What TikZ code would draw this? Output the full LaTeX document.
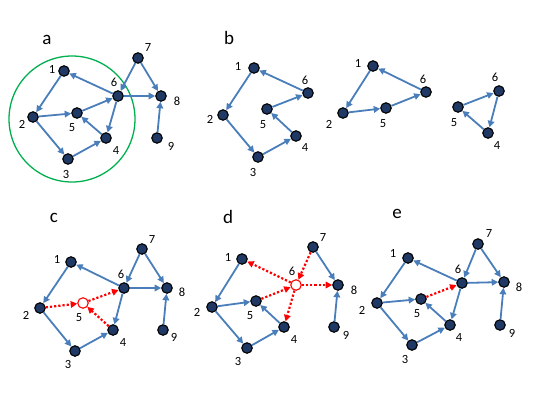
\documentclass[tikz,border=0pt]{standalone}
\usepackage{fontspec}
\setmainfont{Carlito}
\usetikzlibrary{arrows.meta}
\definecolor{edgeblue}{HTML}{4A7EBB}
\definecolor{nodenavy}{HTML}{1F3864}
\definecolor{ringgreen}{HTML}{00B050}
\tikzset{
 vtx/.style={circle, draw=black, line width=1.1pt, fill=nodenavy, minimum size=10.5pt, inner sep=0pt},
 hollow/.style={circle, draw=red, line width=1.1pt, fill=white, minimum size=10.5pt, inner sep=0pt},
 num/.style={font=\fontsize{12.5}{14}\selectfont, inner sep=0pt},
 panel/.style={font=\fontsize{19}{21}\selectfont, inner sep=0pt},
 blueedge/.style={draw=edgeblue, line width=1.8pt, -{Triangle[length=6.5pt,width=6.5pt]}},
 redge/.style={draw=red, line width=2.2pt, dash pattern=on 2.2pt off 2pt, -{Triangle[length=6.5pt,width=6.5pt]}},
}
\begin{document}
\begin{tikzpicture}[x=1pt,y=-1pt]
\useasboundingbox (0,0) rectangle (540,405);
% ---------- panel a ----------
\node[panel] (pa) at (47,40) {a};
\node[circle, draw=ringgreen, line width=1.3pt, minimum size=126pt, inner sep=0pt] (ring) at (72,119) {};
\node[vtx] (a1) at (64,71) {};
\node[vtx] (a2) at (33,117) {};
\node[vtx] (a3) at (68,159) {};
\node[vtx] (a4) at (106,138) {};
\node[vtx] (a5) at (77,113) {};
\node[vtx] (a6) at (118,96) {};
\node[vtx] (a7) at (138,58) {};
\node[vtx] (a8) at (161,96) {};
\node[vtx] (a9) at (157,138) {};
\node[num] (la1) at (52,69) {1};
\node[num] (la2) at (22,124) {2};
\node[num] (la3) at (66,174) {3};
\node[num] (la4) at (116,150) {4};
\node[num] (la5) at (72,128) {5};
\node[num] (la6) at (114,82) {6};
\node[num] (la7) at (148,47) {7};
\node[num] (la8) at (177,101) {8};
\node[num] (la9) at (171,146) {9};
\draw[blueedge] (a6) -- (a1);
\draw[blueedge] (a1) -- (a2);
\draw[blueedge] (a2) -- (a5);
\draw[blueedge] (a2) -- (a3);
\draw[blueedge] (a3) -- (a4);
\draw[blueedge] (a4) -- (a5);
\draw[blueedge] (a5) -- (a6);
\draw[blueedge] (a6) -- (a4);
\draw[blueedge] (a7) -- (a6);
\draw[blueedge] (a7) -- (a8);
\draw[blueedge] (a6) -- (a8);
\draw[blueedge] (a9) -- (a8);
% ---------- panel b ----------
\node[panel] (pb) at (229,38) {b};
\node[vtx] (b1) at (254,68) {};
\node[vtx] (b2) at (223,115) {};
\node[vtx] (b3) at (258,157) {};
\node[vtx] (b4) at (296,136) {};
\node[vtx] (b5) at (267,109) {};
\node[vtx] (b6) at (308,93) {};
\node[num] (lb1) at (238,66) {1};
\node[num] (lb2) at (210,119) {2};
\node[num] (lb3) at (253,172) {3};
\node[num] (lb4) at (305,147) {4};
\node[num] (lb5) at (263,125) {5};
\node[num] (lb6) at (305,80) {6};
\draw[blueedge] (b6) -- (b1);
\draw[blueedge] (b1) -- (b2);
\draw[blueedge] (b2) -- (b3);
\draw[blueedge] (b3) -- (b4);
\draw[blueedge] (b4) -- (b5);
\draw[blueedge] (b5) -- (b6);
\node[vtx] (bb1) at (373,66) {};
\node[vtx] (bb2) at (343,113) {};
\node[vtx] (bb5) at (386,108) {};
\node[vtx] (bb6) at (426,92) {};
\node[num] (lbb1) at (358,63) {1};
\node[num] (lbb2) at (329,124) {2};
\node[num] (lbb5) at (383,124) {5};
\node[num] (lbb6) at (423,79) {6};
\draw[blueedge] (bb6) -- (bb1);
\draw[blueedge] (bb1) -- (bb2);
\draw[blueedge] (bb2) -- (bb5);
\draw[blueedge] (bb5) -- (bb6);
\node[vtx] (bc5) at (458,107) {};
\node[vtx] (bc6) at (499,91) {};
\node[vtx] (bc4) at (488,133) {};
\node[num] (lbc5) at (454,123) {5};
\node[num] (lbc6) at (495,77) {6};
\node[num] (lbc4) at (497,145) {4};
\draw[blueedge] (bc5) -- (bc6);
\draw[blueedge] (bc6) -- (bc4);
\draw[blueedge] (bc4) -- (bc5);
% ---------- panel c ----------
\node[panel] (pc) at (54,218) {c};
\node[vtx] (c1) at (71,262) {};
\node[vtx] (c2) at (40,308) {};
\node[vtx] (c3) at (75,351) {};
\node[vtx] (c4) at (113,330) {};
\node[hollow] (c5) at (83,303) {};
\node[vtx] (c6) at (124,288) {};
\node[vtx] (c7) at (142,249) {};
\node[vtx] (c8) at (167,288) {};
\node[vtx] (c9) at (163,330) {};
\node[num] (lc1) at (57,259) {1};
\node[num] (lc2) at (26,315) {2};
\node[num] (lc3) at (68,364) {3};
\node[num] (lc4) at (123,342) {4};
\node[num] (lc5) at (79,318) {5};
\node[num] (lc6) at (121,274) {6};
\node[num] (lc7) at (152,239) {7};
\node[num] (lc8) at (182,292) {8};
\node[num] (lc9) at (174,337) {9};
\draw[blueedge] (c6) -- (c1);
\draw[blueedge] (c1) -- (c2);
\draw[blueedge] (c2) -- (c3);
\draw[blueedge] (c3) -- (c4);
\draw[blueedge] (c6) -- (c4);
\draw[blueedge] (c7) -- (c6);
\draw[blueedge] (c7) -- (c8);
\draw[blueedge] (c6) -- (c8);
\draw[blueedge] (c9) -- (c8);
\draw[redge] (c2) -- (c5);
\draw[redge] (c4) -- (c5);
\draw[redge] (c5) -- (c6);
% ---------- panel d ----------
\node[panel] (pd) at (228,217) {d};
\node[vtx] (d1) at (242,259) {};
\node[vtx] (d2) at (212,307) {};
\node[vtx] (d3) at (247,348) {};
\node[vtx] (d4) at (284,327) {};
\node[vtx] (d5) at (256,301) {};
\node[hollow] (d6) at (296,285) {};
\node[vtx] (d7) at (313,247) {};
\node[vtx] (d8) at (338,285) {};
\node[vtx] (d9) at (334,327) {};
\node[num] (ld1) at (228,257) {1};
\node[num] (ld2) at (197,312) {2};
\node[num] (ld3) at (238,361) {3};
\node[num] (ld4) at (294,339) {4};
\node[num] (ld5) at (250,316) {5};
\node[num] (ld6) at (292,271) {6};
\node[num] (ld7) at (323,237) {7};
\node[num] (ld8) at (354,290) {8};
\node[num] (ld9) at (346,335) {9};
\draw[blueedge] (d1) -- (d2);
\draw[blueedge] (d2) -- (d5);
\draw[blueedge] (d2) -- (d3);
\draw[blueedge] (d3) -- (d4);
\draw[blueedge] (d4) -- (d5);
\draw[blueedge] (d7) -- (d8);
\draw[blueedge] (d9) -- (d8);
\draw[redge] (d6) -- (d1);
\draw[redge] (d5) -- (d6);
\draw[redge] (d6) -- (d4);
\draw[redge] (d7) -- (d6);
\draw[redge] (d6) -- (d8);
% ---------- panel e ----------
\node[panel] (pe) at (397,214) {e};
\node[vtx] (e1) at (408,258) {};
\node[vtx] (e2) at (377,303) {};
\node[vtx] (e3) at (412,345) {};
\node[vtx] (e4) at (450,325) {};
\node[vtx] (e5) at (421,299) {};
\node[vtx] (e6) at (462,283) {};
\node[vtx] (e7) at (478,244) {};
\node[vtx] (e8) at (504,282) {};
\node[vtx] (e9) at (500,325) {};
\node[num] (le1) at (393,253) {1};
\node[num] (le2) at (362,310) {2};
\node[num] (le3) at (405,359) {3};
\node[num] (le4) at (459,337) {4};
\node[num] (le5) at (417,314) {5};
\node[num] (le6) at (458,269) {6};
\node[num] (le7) at (489,233) {7};
\node[num] (le8) at (519,287) {8};
\node[num] (le9) at (512,333) {9};
\draw[blueedge] (e6) -- (e1);
\draw[blueedge] (e1) -- (e2);
\draw[blueedge] (e2) -- (e5);
\draw[blueedge] (e2) -- (e3);
\draw[blueedge] (e3) -- (e4);
\draw[blueedge] (e4) -- (e5);
\draw[blueedge] (e6) -- (e4);
\draw[blueedge] (e7) -- (e6);
\draw[blueedge] (e7) -- (e8);
\draw[blueedge] (e6) -- (e8);
\draw[blueedge] (e9) -- (e8);
\draw[redge] (e5) -- (e6);
\end{tikzpicture}
\end{document}
